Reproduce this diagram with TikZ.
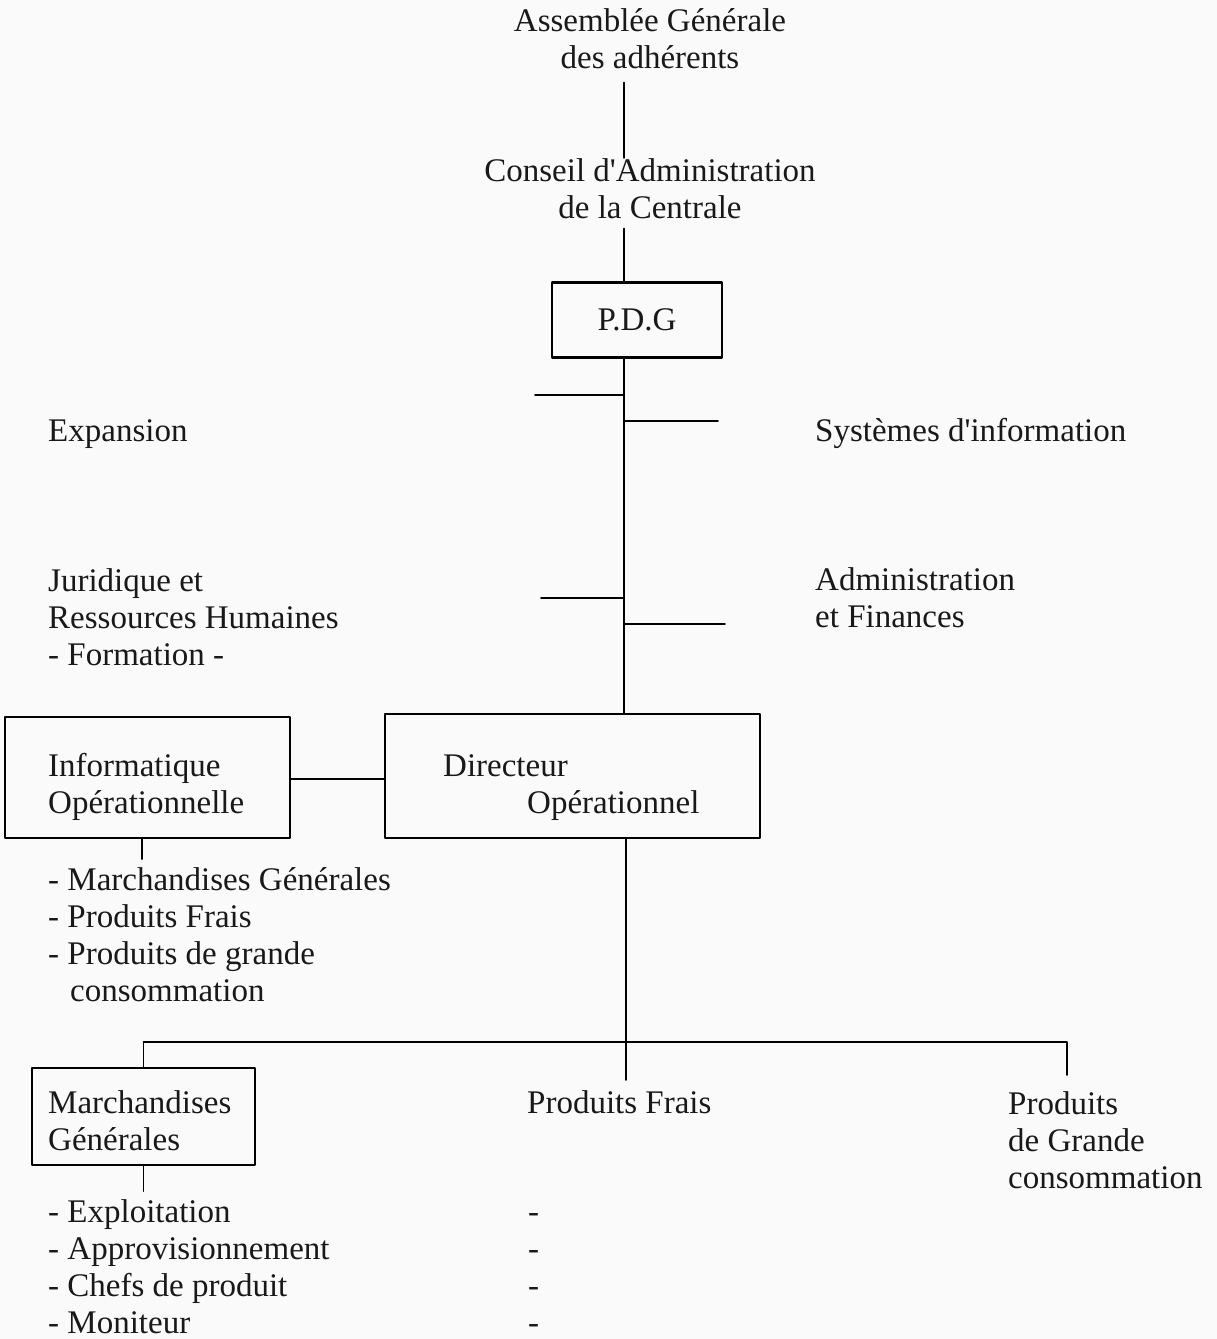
\documentclass[tikz,border=0pt]{standalone}
\usepackage{fontspec}
\setmainfont{Liberation Serif}
\usetikzlibrary{calc}

\begin{document}
\begin{tikzpicture}[x=1pt, y=-1pt, line cap=round, line join=round,
    every node/.style={inner sep=0pt, font=\fontsize{33}{37}\selectfont, text=black!90},
    txt/.style={anchor=base west, align=left},
    box/.style={draw, line width=2.2pt, rectangle},
    link/.style={line width=1.6pt}]
  % Page
  \fill[gray!4] (0,0) rectangle (1217,1339);
  \useasboundingbox (0,0) rectangle (1217,1339);

  % Spine of the chart (multi-line nodes sit on their last baseline)
  \coordinate (spine) at (624,0);

  % Top of the hierarchy
  \node[anchor=base, align=center] (ag) at (650,68) {Assemblée Générale\\des adhérents};
  \node[anchor=base, align=center] (ca) at (650,218) {Conseil d\textquotesingle Administration\\de la Centrale};
  \node[box, minimum width=170pt, minimum height=75pt] (pdg) at (637,320) {P.D.G};

  % Staff services
  \node[txt] (exp) at (48,441) {Expansion};
  \node[txt] (sys) at (815,441) {Systèmes d\textquotesingle information};
  \node[txt] (jur) at (48,665) {Juridique et\\Ressources Humaines\\- Formation -};
  \node[txt] (adm) at (815,627) {Administration\\et Finances};

  % Operations
  \node[box, minimum width=285pt, minimum height=121pt] (info) at (147.5,777.5) {};
  \node[txt] (infotxt) at (48,813) {Informatique\\Opérationnelle};
  \node[box, minimum width=375pt, minimum height=124pt] (dir) at (572.5,776) {};
  \node[txt] (dirtxt) at (443,813) {Directeur\\\hspace*{84pt}Opérationnel};
  \node[txt] (infolist) at (48,1001) {- Marchandises Générales\\- Produits Frais\\- Produits de grande\\\hspace*{22pt}consommation};

  % Product departments
  \node[box, minimum width=223pt, minimum height=97pt] (mg) at (143.5,1116.5) {};
  \node[txt] (mgtxt) at (48,1150) {Marchandises\\Générales};
  \node[txt] (pf) at (527,1113) {Produits Frais};
  \node[txt] (pgc) at (1008,1188) {Produits\\de Grande\\consommation};
  \node[txt] (mglist) at (48,1333) {- Exploitation\\- Approvisionnement\\- Chefs de produit\\- Moniteur};
  \node[txt] (pflist) at (528,1333) {-\\-\\-\\-};

  % Connectors
  \draw[link] (spine |- ag.south) ++(0,14) coordinate (agb) -- (spine |- ca.north);
  \draw[link] (spine |- ca.south) ++(0,10) coordinate (cab) -- (spine |- pdg.north);
  \draw[link] (spine |- pdg.south) -- (spine |- dir.north);
  \coordinate (b1) at (624,395);
  \coordinate (b2) at (624,421);
  \coordinate (b3) at (624,598);
  \coordinate (b4) at (624,624);
  \draw[link] (b1) -- ++(-89,0);
  \draw[link] (b2) -- ++(94,0);
  \draw[link] (b3) -- ++(-83,0);
  \draw[link] (b4) -- ++(101,0);
  \draw[link] (info.east |- 0,779) -- (dir.west |- 0,779);
  \draw[link] (142,0 |- info.south) -- ++(0,20);

  % Lower tree
  \coordinate (bar) at (626,1042);
  \draw[link] (bar |- dir.south) -- (bar);
  \draw[link] (mg.north |- bar) -- (1067,1042) -- ++(0,33);
  \draw[link] (mg.north |- bar) -- (mg.north);
  \draw[link] (bar) -- ++(0,38);
  \draw[link] (mg.south) -- ++(0,25);
\end{tikzpicture}
\end{document}
